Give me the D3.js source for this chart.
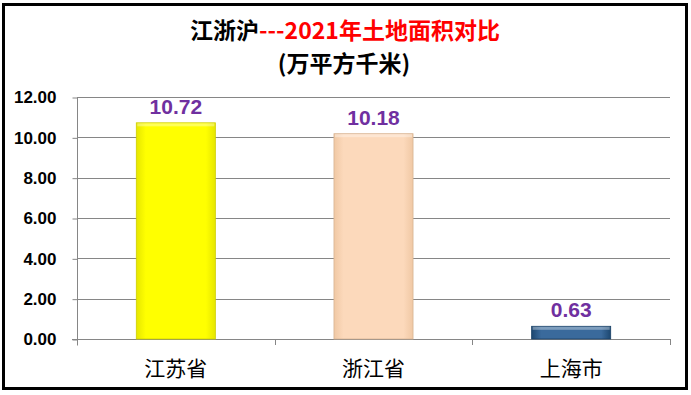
<!DOCTYPE html>
<html><head><meta charset="utf-8">
<script src="https://cdn.jsdelivr.net/npm/d3@7"></script>
<style>body{margin:0;background:#fff;}svg{display:block;}</style>
</head><body>
<script>
const categories = ["江苏省", "浙江省", "上海市"];
const values = [10.72, 10.18, 0.63];
const valueLabels = ["10.72", "10.18", "0.63"];
const tickValues = [0, 2, 4, 6, 8, 10, 12];
const barColors = [["#e6e600", "#ffff00", "#e6e600"], ["#f0c8a4", "#fcd9bb", "#f0c8a4"], ["#1c4770", "#3a6a9c", "#1c4770"]];
const titleBlack = "江浙沪";
const titleRed = "---2021年土地面积对比";
const subtitle = "(万平方千米)";

const W = 691, H = 395;
const svg = d3.select("body").append("svg").attr("width", W).attr("height", H);
svg.append("rect").attr("x", 3.5).attr("y", 4.5).attr("width", 683).attr("height", 384)
  .attr("fill", "#fff").attr("stroke", "#000").attr("stroke-width", 3);

const x = d3.scaleBand().domain(categories).range([77, 670]).paddingInner(0.6).paddingOuter(0.3);
const y = d3.scaleLinear().domain([0, 12]).range([339, 97]);

const defs = svg.append("defs");
barColors.forEach((c, i) => {
  const g = defs.append("linearGradient").attr("id", "g" + i).attr("x1", 0).attr("x2", 1).attr("y1", 0).attr("y2", 0);
  g.append("stop").attr("offset", "0%").attr("stop-color", c[0]);
  g.append("stop").attr("offset", "12%").attr("stop-color", c[1]);
  g.append("stop").attr("offset", "88%").attr("stop-color", c[1]);
  g.append("stop").attr("offset", "100%").attr("stop-color", c[0]);
});

// gridlines
svg.append("g").selectAll("line").data(tickValues.filter(d => d > 0)).join("line")
  .attr("x1", 77).attr("x2", 670).attr("y1", d => Math.round(y(d)) + 0.5).attr("y2", d => Math.round(y(d)) + 0.5)
  .attr("stroke", "#868686").attr("stroke-width", 1);

// y axis
const yAxis = svg.append("g").attr("transform", "translate(77.5,0.5)")
  .call(d3.axisLeft(y).tickValues(tickValues).tickFormat(d3.format(".2f")).tickSize(5).tickPadding(16));
yAxis.select(".domain").attr("stroke", "#868686").attr("d", "M0," + (y(12)) + "V" + (y(0) + 6));
yAxis.selectAll(".tick line").attr("stroke", "#868686");
yAxis.selectAll("text").attr("font-family", "Liberation Sans, Arial, sans-serif").attr("font-weight", "bold")
  .attr("font-size", 17).attr("fill", "#000");

// x axis
const xAxis = svg.append("g").attr("transform", "translate(0," + (Math.round(y(0)) + 0.5) + ")")
  .call(d3.axisBottom(x).tickSize(0).tickPadding(22));
xAxis.select(".domain").attr("stroke", "#868686").attr("d", "M72,0H670");
xAxis.selectAll("text").attr("font-family", "Noto Sans CJK SC, sans-serif").attr("font-size", 21).attr("fill", "#000");
// category boundary ticks
const bounds = [77].concat(categories.map(c => x(c) + x.bandwidth() / 2 + x.step() / 2));
svg.append("g").selectAll("line").data(bounds).join("line")
  .attr("x1", d => Math.round(d) + 0.5).attr("x2", d => Math.round(d) + 0.5)
  .attr("y1", y(0)).attr("y2", y(0) + 6).attr("stroke", "#868686");

// bars
const bars = svg.append("g");
categories.forEach((c, i) => {
  const bx = x(c), bw = x.bandwidth(), by = y(values[i]), bh = y(0) - y(values[i]);
  bars.append("rect").attr("x", bx).attr("y", by).attr("width", bw).attr("height", bh)
    .attr("fill", "url(#g" + i + ")").attr("stroke", d3.color(barColors[i][0]).darker(0.3)).attr("stroke-width", 0.8);
  bars.append("rect").attr("x", bx + 1).attr("y", by + 0.5).attr("width", bw - 2).attr("height", Math.min(3, bh / 3))
    .attr("fill", "#fff").attr("opacity", 0.35);
});

// value labels
svg.append("g").selectAll("text").data(categories).join("text")
  .attr("x", c => x(c) + x.bandwidth() / 2).attr("y", (c, i) => y(values[i]) - 9)
  .attr("text-anchor", "middle").attr("font-family", "Liberation Sans, Arial, sans-serif")
  .attr("font-weight", "bold").attr("font-size", 21).attr("fill", "#7030a0")
  .text((c, i) => valueLabels[i]);

// title
const t = svg.append("text").attr("x", 345).attr("y", 39).attr("text-anchor", "middle")
  .attr("font-family", "Noto Sans CJK SC, sans-serif").attr("font-weight", "bold").attr("font-size", 23);
t.append("tspan").attr("fill", "#000").text(titleBlack);
t.append("tspan").attr("fill", "#ff0000").text(titleRed);
svg.append("text").attr("x", 344).attr("y", 72).attr("text-anchor", "middle")
  .attr("font-family", "Noto Sans CJK SC, sans-serif").attr("font-weight", "bold").attr("font-size", 23)
  .attr("fill", "#000").text(subtitle);
</script>
</body></html>
